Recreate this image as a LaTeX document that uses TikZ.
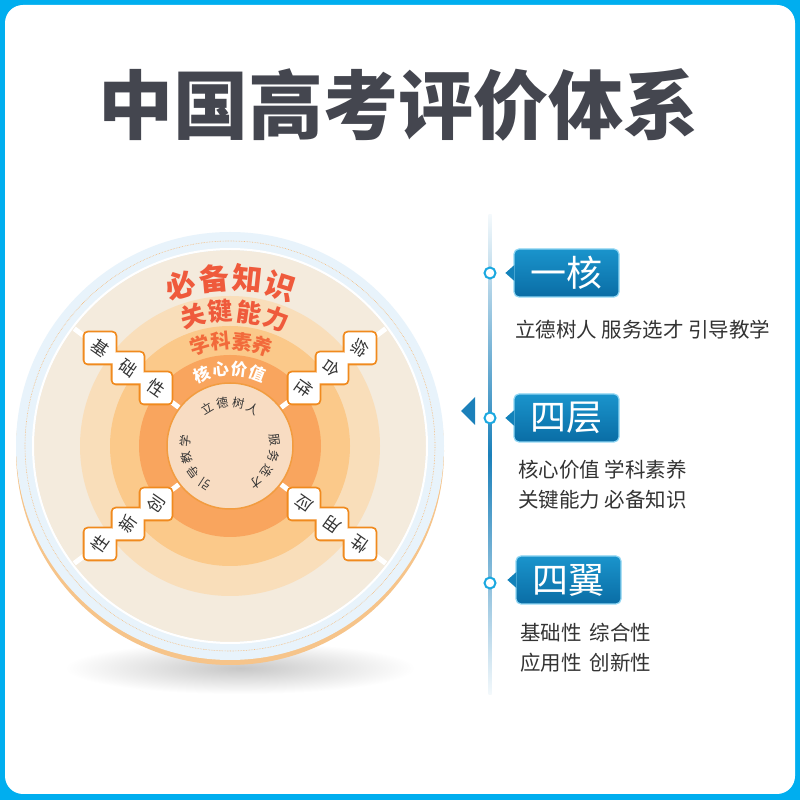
\documentclass[tikz,border=0pt]{standalone}
\usepackage{fontspec}
\setmainfont{Noto Sans CJK SC}
\usetikzlibrary{positioning}
\definecolor{C_FRAME}{HTML}{00AEEF}
\definecolor{C_TITLE}{HTML}{44464F}
\definecolor{C_TXT} {HTML}{333333}
\definecolor{C_RED} {HTML}{EF5A3C}
\definecolor{C_RED2}{HTML}{F26A3B}
\definecolor{C_RIM} {HTML}{E8F3FB}
\definecolor{C_GLOW}{HTML}{F6C48A}
\definecolor{C_L1}  {HTML}{F4EBDD}
\definecolor{C_L2}  {HTML}{F9DEBA}
\definecolor{C_L3}  {HTML}{FBC98A}
\definecolor{C_L4}  {HTML}{F9A55E}
\definecolor{C_CORE}{HTML}{F8DCC2}
\definecolor{C_ORG} {HTML}{F08A1E}
\definecolor{C_BT}  {HTML}{1A94CC}
\definecolor{C_BB}  {HTML}{0A6DA5}
\definecolor{C_BEDGE}{HTML}{8FD6F3}
\definecolor{C_DOT} {HTML}{1BA8E0}
\definecolor{C_LINE}{HTML}{1B80BA}
\tikzset{
  %% -- characters set along the rings --
  ring/big/.style={inner sep=0pt, text=C_RED,
    font=\bfseries\fontsize{30}{30}\selectfont},
  ring/mid/.style={inner sep=0pt, text=C_RED,
    font=\bfseries\fontsize{25}{25}\selectfont},
  ring/sub/.style={inner sep=0pt, text=C_RED2,
    font=\bfseries\fontsize{20}{20}\selectfont},
  ring/core/.style={inner sep=0pt, text=white,
    font=\bfseries\fontsize{16.5}{16.5}\selectfont},
  ring/in/.style={inner sep=0pt, text=C_TXT,
    font=\fontsize{12}{12}\selectfont},
  %% -- wing squares: back plate gives the joint outline --
  wing/back/.style={draw=C_ORG, line width=3.6pt, fill=white,
    rounded corners=3.5pt, minimum size=31pt, inner sep=0pt},
  wing/box/.style={fill=white, rounded corners=3.5pt,
    minimum size=31pt, inner sep=0pt, text=C_TXT,
    font=\fontsize{17}{17}\selectfont},
  %% -- right column tags --
  tag/box/.style={rounded corners=5pt, top color=C_BT, bottom color=C_BB,
    draw=C_BEDGE, line width=1.2pt, minimum width=105pt,
    minimum height=48pt, inner sep=0pt, text=white,
    font=\fontsize{36}{36}\selectfont},
  tag/tip/.style={fill=C_BT!55!C_BB},
  tag/dot/.style={circle, draw=C_DOT, line width=2pt, fill=white,
    minimum size=11pt, inner sep=0pt},
  tag/txt/.style={anchor=west, inner sep=0pt, text=C_TXT,
    font=\fontsize{20.5}{20.5}\selectfont},
}
\begin{document}
\begin{tikzpicture}[x=1pt, y=1pt]
\useasboundingbox (0,0) rectangle (800,800);

%% ━━━━━━━━━━━━━━━━━━━━━━━━━━━━━━━━━━━━━━━━━━━━━━━━━━━━━━━━━━━━
%%  FRAME AND TITLE
%% ━━━━━━━━━━━━━━━━━━━━━━━━━━━━━━━━━━━━━━━━━━━━━━━━━━━━━━━━━━━━
\fill[C_FRAME] (0,0) rectangle (800,800);
\fill[white, rounded corners=18pt] (5,6) rectangle (795,795);

\node[inner sep=0pt, text=C_TITLE,
      font=\bfseries\fontsize{75}{75}\selectfont] (title) at (398,695)
  {中国高考评价体系};

%% ━━━━━━━━━━━━━━━━━━━━━━━━━━━━━━━━━━━━━━━━━━━━━━━━━━━━━━━━━━━━
%%  LEFT — ring disc
%% ━━━━━━━━━━━━━━━━━━━━━━━━━━━━━━━━━━━━━━━━━━━━━━━━━━━━━━━━━━━━
\pgfmathsetmacro{\cx}{230}  %% disc centre
\pgfmathsetmacro{\cy}{354}
\coordinate (ctr) at (\cx,\cy);

%% shadow, glow and rim
\shade[inner color=black!22, outer color=white] (240,132) ellipse (175 and 26);
\fill[C_GLOW] (\cx,\cy-5) circle (214);
\fill[C_RIM] (ctr) circle (214);
\draw[C_ORG!60, line width=0.6pt, densely dotted] (ctr) circle (205);

%% the four layers
\fill[C_L1] (ctr) circle (196);
\draw[white, line width=2pt] (ctr) circle (197);
\fill[C_L2] (ctr) circle (150);
\fill[C_L3] (ctr) circle (120);
\fill[C_L4] (ctr) circle (91);

%% white spokes under the wings
\foreach \a in {37,143,217,323}
  \draw[white, line width=5pt] ([shift={(\a:64)}]ctr) -- ([shift={(\a:195)}]ctr);

%% core disc
\node[circle, fill=C_CORE, draw=C_ORG!85, line width=1.5pt,
      minimum size=126pt, inner sep=0pt] (core) at (ctr) {};

%% layer names
\foreach \ch/\a [count=\i] in {必/107,备/95.5,知/84,识/72.5}
  \node[ring/big, rotate=\a-90] (zs\i) at ([shift={(\a:168)}]ctr) {\ch};
\foreach \ch/\a [count=\i] in {关/106,键/94,能/82,力/70}
  \node[ring/mid, rotate=\a-90] (nl\i) at ([shift={(\a:135)}]ctr) {\ch};
\foreach \ch/\a [count=\i] in {学/106.5,科/95,素/83.5,养/72}
  \node[ring/sub, rotate=\a-90] (sy\i) at ([shift={(\a:105)}]ctr) {\ch};
\foreach \ch/\a [count=\i] in {核/111,心/97,价/83,值/69}
  \node[ring/core, rotate=\a-90] (jz\i) at ([shift={(\a:77)}]ctr) {\ch};

%% one core: three phrases round the inside
\foreach \ch/\a [count=\i] in {立/121,德/100,树/79,人/58}
  \node[ring/in, rotate=\a-90] (ld\i) at ([shift={(\a:44)}]ctr) {\ch};
\foreach \ch/\a [count=\i] in {服/8,务/-13,选/-34,才/-55}
  \node[ring/in, rotate=\a-90] (fw\i) at ([shift={(\a:45)}]ctr) {\ch};
\foreach \ch/\a [count=\i] in {引/237,导/216,教/195,学/174}
  \node[ring/in, rotate=\a-90] (yd\i) at ([shift={(\a:45)}]ctr) {\ch};

%% four wings: back plates first, then faces
\foreach \sx/\sy/\nm in {-1/1/nw, 1/1/ne, 1/-1/se, -1/-1/sw}
  \foreach \k in {0,1,2}
    \node[wing/back] (\nm b\k) at ({\cx+\sx*(74+28*\k)},{\cy+\sy*(58+20*\k)}) {};

\foreach \ch [count=\k from 0] in {性,础,基}
  \node[wing/box] (nw\k) at ({\cx-74-28*\k},{\cy+58+20*\k})
    {\rotatebox[origin=c]{-35}{\ch}};
\foreach \ch [count=\k from 0] in {性,合,综}
  \node[wing/box] (ne\k) at ({\cx+74+28*\k},{\cy+58+20*\k})
    {\rotatebox[origin=c]{-125}{\ch}};
\foreach \ch [count=\k from 0] in {应,用,性}
  \node[wing/box] (se\k) at ({\cx+74+28*\k},{\cy-58-20*\k})
    {\rotatebox[origin=c]{145}{\ch}};
\foreach \ch [count=\k from 0] in {创,新,性}
  \node[wing/box] (sw\k) at ({\cx-74-28*\k},{\cy-58-20*\k})
    {\rotatebox[origin=c]{55}{\ch}};

%% ━━━━━━━━━━━━━━━━━━━━━━━━━━━━━━━━━━━━━━━━━━━━━━━━━━━━━━━━━━━━
%%  RIGHT — time line with tags
%% ━━━━━━━━━━━━━━━━━━━━━━━━━━━━━━━━━━━━━━━━━━━━━━━━━━━━━━━━━━━━
\shade[top color=C_LINE!5, bottom color=C_LINE!5, middle color=C_LINE]
  (488.5,105) rectangle (491.5,585);

%% pointer towards the disc
\fill[C_LINE] (475,403) -- (461,389) -- (475,375) -- cycle;

%% markers
\node[tag/dot] (dot1) at (490,527) {};
\node[tag/dot] (dot2) at (490,382) {};
\node[tag/dot] (dot3) at (490,217) {};

%% tags
\node[tag/box] (yihe)  at (566.5,527) {一核};
\node[tag/box] (siceng) at (566.5,382) {四层};
\node[tag/box] (siyi)  at (568.5,220) {四翼};
\foreach \t in {yihe,siceng,siyi}
  \fill[tag/tip] ([xshift=1pt,yshift=8pt]\t.west) -- ([xshift=-8pt]\t.west)
    -- ([xshift=1pt,yshift=-8pt]\t.west) -- cycle;

%% tag texts
\node[tag/txt] (yihe-t) at (515,470) {立德树人 服务选才 引导教学};
\node[tag/txt] (siceng-t1) at (518,330) {核心价值 学科素养};
\node[tag/txt] (siceng-t2) at (518,300) {关键能力 必备知识};
\node[tag/txt] (siyi-t1) at (520,167) {基础性\hspace{8pt}综合性};
\node[tag/txt] (siyi-t2) at (520,137) {应用性\hspace{8pt}创新性};

\end{tikzpicture}
\end{document}
